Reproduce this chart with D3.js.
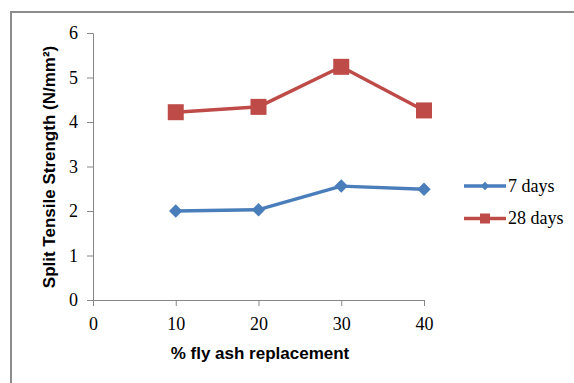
<!DOCTYPE html>
<html>
<head>
<meta charset="utf-8">
<script src="https://cdn.jsdelivr.net/npm/d3@7"></script>
<style>
  body { margin: 0; background: #fff; }
</style>
</head>
<body>
<div id="chart"></div>
<script>
// data
var xValues = [10, 20, 30, 40];
var days7 = [2.00, 2.03, 2.56, 2.49];
var days28 = [4.22, 4.34, 5.24, 4.26];
var seriesNames = ["7 days", "28 days"];
var xTicks = [0, 10, 20, 30, 40];
var yTicks = [0, 1, 2, 3, 4, 5, 6];

var SERIF = "Liberation Serif, serif";
var SANS = "Liberation Sans, sans-serif";

var W = 574, H = 383;
var margin = {top: 33, left: 93, right: 150, bottom: 83};
var width = W - margin.left - margin.right;   // 331
var height = H - margin.top - margin.bottom;  // 267

var svg = d3.select("#chart").append("svg")
  .attr("width", W)
  .attr("height", H);

// outer frame of the chart area
svg.append("rect")
  .attr("x", 11).attr("y", 12)
  .attr("width", W).attr("height", H)
  .attr("fill", "none")
  .attr("stroke", "#8c8c8c")
  .attr("stroke-width", 2);

var x = d3.scaleLinear().domain([0, 40]).range([0, width]);
var y = d3.scaleLinear().domain([0, 6]).range([height, 0]);

var main = svg.append("g")
  .attr("transform", "translate(" + margin.left + "," + margin.top + ")");

// axes
var xAxis = main.append("g")
  .attr("transform", "translate(0," + height + ")")
  .call(d3.axisBottom(x).tickValues(xTicks).tickFormat(d3.format("d"))
    .tickSize(6).tickPadding(9).tickSizeOuter(0));
var yAxis = main.append("g")
  .call(d3.axisLeft(y).tickValues(yTicks).tickFormat(d3.format("d"))
    .tickSize(6).tickPadding(9).tickSizeOuter(0));

[xAxis, yAxis].forEach(function(a) {
  a.attr("font-family", SERIF).attr("font-size", 18);
  a.select(".domain").attr("stroke", "#868686");
  a.selectAll(".tick line").attr("stroke", "#868686");
  a.selectAll(".tick text")
    .attr("fill", "#000")
    .attr("font-family", SERIF)
    .attr("font-size", 18);
});
xAxis.selectAll(".tick text").attr("dy", "0.85em");

var line = d3.line()
  .x(function(d, i) { return x(xValues[i]); })
  .y(function(d) { return y(d); });

var colors = ["#4a7ebb", "#be4b48"];
var all = [days7, days28];

all.forEach(function(s, k) {
  main.append("path")
    .datum(s)
    .attr("fill", "none")
    .attr("stroke", colors[k])
    .attr("stroke-width", 3.4)
    .attr("stroke-linejoin", "round")
    .attr("d", line);
});

// markers
main.selectAll(".diamond")
  .data(days7).enter()
  .append("path")
  .attr("d", d3.symbol().type(d3.symbolDiamond2).size(115))
  .attr("transform", function(d, i) { return "translate(" + x(xValues[i]) + "," + y(d) + ")"; })
  .attr("fill", colors[0]);

main.selectAll(".square")
  .data(days28).enter()
  .append("rect")
  .attr("x", function(d, i) { return x(xValues[i]) - 8; })
  .attr("y", function(d) { return y(d) - 8; })
  .attr("width", 16).attr("height", 16)
  .attr("fill", colors[1]);

// legend
var legend = svg.append("g").attr("transform", "translate(464,186)");
seriesNames.forEach(function(name, k) {
  var g = legend.append("g").attr("transform", "translate(0," + (k * 32.5) + ")");
  g.append("line")
    .attr("x1", 0).attr("x2", 42)
    .attr("stroke", colors[k]).attr("stroke-width", 3.4);
  if (k === 0) {
    g.append("path")
      .attr("d", d3.symbol().type(d3.symbolDiamond2).size(45))
      .attr("transform", "translate(21,0)")
      .attr("fill", colors[k]);
  } else {
    g.append("rect")
      .attr("x", 16).attr("y", -5).attr("width", 10).attr("height", 10)
      .attr("fill", colors[k]);
  }
  g.append("text")
    .attr("font-family", SERIF)
    .attr("font-size", 18)
    .attr("x", 44).attr("y", 0).attr("dy", "0.33em")
    .text(name);
});

// axis titles
svg.append("text")
  .attr("font-family", SANS)
  .attr("font-weight", "bold")
  .attr("font-size", 17)
  .attr("text-anchor", "middle")
  .attr("transform", "translate(55,167)rotate(-90)")
  .text("Split Tensile Strength (N/mm²)");

svg.append("text")
  .attr("font-family", SANS)
  .attr("font-weight", "bold")
  .attr("font-size", 17)
  .attr("text-anchor", "middle")
  .attr("x", 260).attr("y", 359)
  .text("% fly ash replacement");
</script>
</body>
</html>
